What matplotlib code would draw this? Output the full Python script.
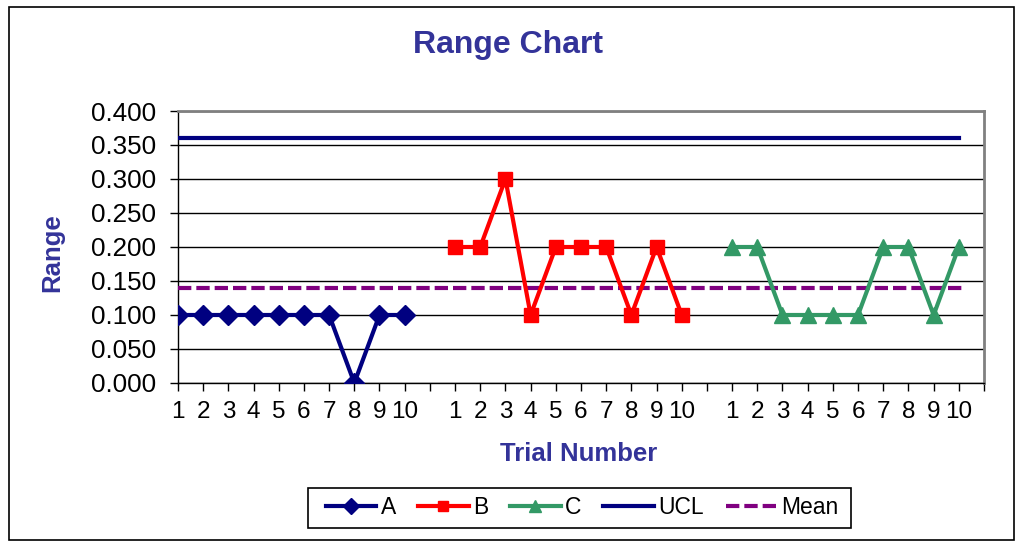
import matplotlib.pyplot as plt
import numpy as np
from matplotlib.patches import Rectangle

plt.rcParams['font.family'] = ['Liberation Sans', 'DejaVu Sans']

# data
trials = [str(i) for i in range(1, 11)]
range_a = [0.1, 0.1, 0.1, 0.1, 0.1, 0.1, 0.1, 0.0, 0.1, 0.1]
range_b = [0.2, 0.2, 0.3, 0.1, 0.2, 0.2, 0.2, 0.1, 0.2, 0.1]
range_c = [0.2, 0.2, 0.1, 0.1, 0.1, 0.1, 0.2, 0.2, 0.1, 0.2]
ucl_value = 0.361
mean_value = 0.14

# category layout: three groups of 10 with an empty slot after each
tick_labels = trials + [''] + trials + [''] + trials + ['']
n_slots = len(tick_labels)
pos_a = np.arange(0, 10)
pos_b = np.arange(11, 21)
pos_c = np.arange(22, 32)
pos_all = np.arange(0, 32)

W, H = 1020, 547
fig = plt.figure(figsize=(W / 100, H / 100), dpi=100)
ax = fig.add_axes([178 / W, 1 - 383 / H, (984 - 178) / W, (383 - 111) / H])

navy = '#000080'
red = '#FF0000'
green = '#339966'
purple = '#800080'
title_col = '#333399'

lw = 3
ax.plot(pos_a, range_a, color=navy, lw=lw, marker='D', ms=10.5, label='A', zorder=4)
ax.plot(pos_b, range_b, color=red, lw=lw, marker='s', ms=10, label='B', zorder=4)
ax.plot(pos_c, range_c, color=green, lw=lw, marker='^', ms=11.5, label='C', zorder=4)
ax.plot(pos_all, [ucl_value] * len(pos_all), color=navy, lw=3, label='UCL', zorder=3)
ax.plot(np.append(pos_all, 31.2), [mean_value] * (len(pos_all) + 1), color=purple, lw=3,
        ls=(0, (3.2, 1.2)), label='Mean', zorder=3)

ax.set_xlim(0, n_slots - 1)
ax.set_ylim(0, 0.4)
ax.set_xticks(np.arange(n_slots))
ax.set_xticklabels(tick_labels, fontsize=17.5)
ax.set_yticks(np.arange(0, 0.401, 0.05))
ax.set_yticklabels(['%.3f' % v for v in np.arange(0, 0.401, 0.05)], fontsize=18.7)
ax.tick_params(axis='both', direction='out', length=5.5, width=1, color='black')
ax.tick_params(axis='y', pad=10.5)
ax.tick_params(axis='x', pad=7.5)
ax.yaxis.grid(True, color='black', lw=1)
ax.set_axisbelow(True)
for s in ['top', 'right']:
    ax.spines[s].set_color('#808080')
    ax.spines[s].set_linewidth(2)
for s in ['left', 'bottom']:
    ax.spines[s].set_color('black')
    ax.spines[s].set_linewidth(1)

fig.text(508 / W, 1 - 45 / H, 'Range Chart', ha='center', va='center',
         fontsize=23, fontweight='bold', color=title_col)
fig.text(579 / W, 1 - 454 / H, 'Trial Number', ha='center', va='center',
         fontsize=18.5, fontweight='bold', color=title_col)
fig.text(52 / W, 1 - 253 / H, 'Range', ha='center', va='center', rotation=90,
         fontsize=18.5, fontweight='bold', color=title_col)

leg = fig.legend(loc='center', bbox_to_anchor=(582 / W, 1 - 508 / H), ncol=5,
                 fontsize=16.5, frameon=False,
                 handlelength=2.2, handletextpad=0.2, columnspacing=0.95,
                 borderpad=0.0, markerscale=0.75)

# legend box and outer chart border
fig.patches.append(Rectangle((308 / W, 1 - 528 / H), (851 - 308) / W, (528 - 488) / H,
                             transform=fig.transFigure, fill=False,
                             edgecolor='black', lw=1.2))
fig.patches.append(Rectangle((9 / W, 1 - 540 / H), (1014 - 9) / W, (540 - 7) / H,
                             transform=fig.transFigure, fill=False,
                             edgecolor='black', lw=1.2))

fig.savefig('out.png', dpi=100)
